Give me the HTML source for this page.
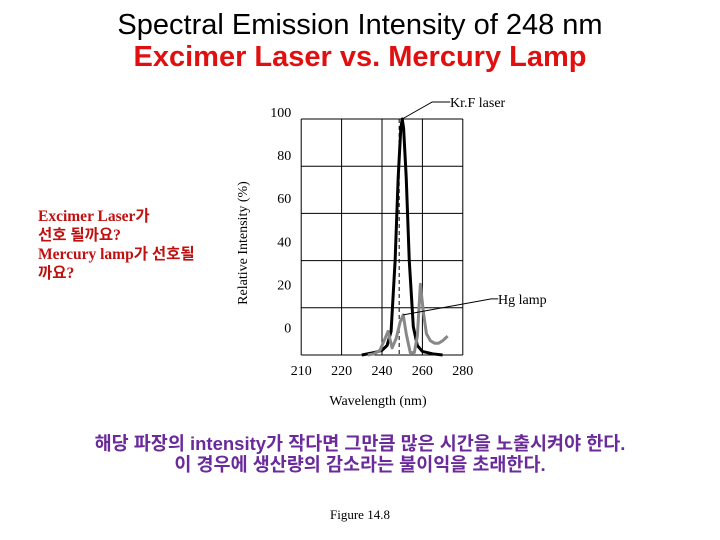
<!DOCTYPE html>
<html><head><meta charset="utf-8"><style>
body{margin:0;background:#fff;width:720px;height:540px;overflow:hidden;position:relative;font-family:"Liberation Sans","Noto Sans CJK KR",sans-serif}
.t{position:absolute;white-space:nowrap}
</style></head><body>
<div class="t" style="left:0;width:720px;text-align:center;top:9px;font-size:29px;color:#000">Spectral Emission Intensity of 248 nm</div>
<div class="t" style="left:0;width:720px;text-align:center;top:41px;font-size:29px;font-weight:bold;color:#e01010">Excimer Laser vs. Mercury Lamp</div>
<div class="t" style="left:38px;top:207px;font-family:'Liberation Serif','Noto Sans CJK KR',serif;font-size:15.5px;line-height:19px;color:#c01010;font-weight:bold">Excimer Laser가<br>선호 될까요?<br>Mercury lamp가 선호될<br>까요?</div>
<div class="t" style="left:0;width:720px;text-align:center;top:433px;font-size:18.5px;line-height:21px;font-weight:bold;color:#6a2a9a">해당 파장의 intensity가 작다면 그만큼 많은 시간을 노출시켜야 한다.<br>이 경우에 생산량의 감소라는 불이익을 초래한다.</div>
<div class="t" style="left:0;width:720px;text-align:center;top:507px;font-family:'Liberation Serif',serif;font-size:13px">Figure 14.8</div>
<svg id="chart" width="720" height="540" style="position:absolute;left:0;top:0" font-family="Liberation Serif, serif" font-size="14"></svg>
<script>
const xTickLabels=["210","220","240","260","280"];
const xTickValues=[200,220,240,260,280];
const yTickLabels=["100","80","60","40","20","0"];
const yTickValues=[100,80,60,40,20,0];
const laserWl=[230,236,240,242.5,244.5,246.5,248,249.3,250,250.7,252,253.5,255.5,257.5,260,265,270];
const laserInt=[0,1,2,4,10,40,75,96,100,96,75,40,12,4,1.5,0.5,0];
const hgWl=[233,236,239,241,243,245,247,249,250.5,252,254,256,257.5,259,260.5,262,264,266,268,270,272.5];
const hgInt=[0,0.5,2,6,10,3,7,14,17,9,1,1,8,30,18,9,6,5,5,6,8];
const NS="http://www.w3.org/2000/svg";
const svg=document.getElementById('chart');
const X=w=>382+(w-240)*2.02;
const Y=v=>355-v*2.36;
function mk(t,a){const e=document.createElementNS(NS,t);for(const k in a)e.setAttribute(k,a[k]);svg.appendChild(e);return e;}
yTickValues.forEach((v,i)=>{const e=mk('line',{x1:X(200),x2:X(280),y1:Y(v),y2:Y(v),stroke:'#000','stroke-width':1});


const t=mk('text',{x:X(200)-10,y:Y(v)-2-i*0.5-(100-v)*0.18,'text-anchor':'end'});
t.textContent=yTickLabels[i];

});
xTickValues.forEach((v,i)=>{const e=mk('line',{x1:X(v),x2:X(v),y1:Y(100),y2:Y(0),stroke:'#000','stroke-width':1});


const t=mk('text',{x:X(v),y:Y(0)+20,'text-anchor':'middle'});
t.textContent=xTickLabels[i];

});
let d=mk('line',{x1:X(248.5),x2:X(248.5),y1:Y(100),y2:Y(0),stroke:'#000','stroke-dasharray':'4,3'});


function path(ws,vs,c,name){const p=mk('path',{d:ws.map((w,i)=>(i?'L':'M')+X(w)+','+Y(vs[i])).join(''),fill:'none',stroke:c,'stroke-width':3,'stroke-linejoin':'round'});

}
path(laserWl,laserInt,'#000','krf-laser-line');
path(hgWl,hgInt,'#888','hg-lamp-line');
let a=mk('polyline',{points:`${X(250)},${Y(100)} ${X(250)+30},${Y(100)-17} ${X(250)+48},${Y(100)-17}`,fill:'none',stroke:'#000'});


let t=mk('text',{x:450,y:107});t.textContent='Kr.F laser';


a=mk('polyline',{points:`${X(250.5)},${Y(17)} ${X(250.5)+88},${Y(17)-16} ${X(250.5)+95},${Y(17)-16}`,fill:'none',stroke:'#000'});


t=mk('text',{x:498,y:304});t.textContent='Hg lamp';


t=mk('text',{x:378,y:405,'text-anchor':'middle'});t.textContent='Wavelength (nm)';


t=mk('text',{x:0,y:0,'text-anchor':'middle',transform:'translate(247,243) rotate(-90)'});t.textContent='Relative Intensity (%)';


</script>
</body></html>
